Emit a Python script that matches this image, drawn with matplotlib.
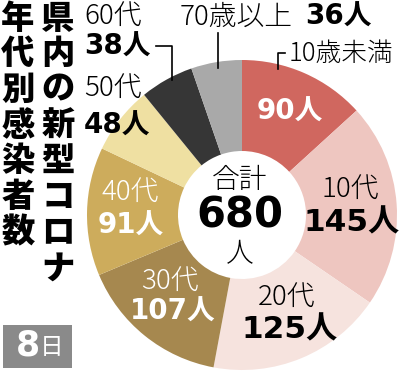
import matplotlib
matplotlib.use("Agg")
import matplotlib.pyplot as plt
from matplotlib.patches import Rectangle

plt.rcParams['font.family'] = ['Noto Sans CJK JP', 'DejaVu Sans']
num_font = ['DejaVu Sans', 'Noto Sans CJK JP']  # wide round digits, 人 falls back

# data
groups = ['10歳未満', '10代', '20代', '30代', '40代', '50代', '60代', '70歳以上']
counts = [90, 145, 125, 107, 91, 48, 38, 36]
colors = ['#d0675f', '#eec6c0', '#f6e3de', '#a6884f', '#cdac5c', '#efe0a2', '#363636', '#a9a9a9']
total = sum(counts)
title_right = '県内の新型コロナ'
title_left = '年代別感染者数'
date_num = '8'
date_unit = '日'

H = 375


def Y(py):
    return H - py


fig = plt.figure(figsize=(4, 3.75), dpi=100)
ax = fig.add_axes([0, 0, 1, 1])

ax.pie(counts, colors=colors, startangle=90, counterclock=False,
       center=(242, Y(215)), radius=155,
       wedgeprops=dict(width=91, linewidth=0))
ax.set_xlim(0, 400)
ax.set_ylim(0, H)
ax.set_aspect('equal')
ax.axis('off')

# vertical title
for i, ch in enumerate(title_right):
    ax.text(58, Y(18 + i * 35.7), ch, fontsize=24, fontweight='heavy',
            ha='center', va='center')
for i, ch in enumerate(title_left):
    ax.text(18, Y(18 + i * 35.7), ch, fontsize=24, fontweight='heavy',
            ha='center', va='center')


def label(x, y, s, size=20, color='black', ha='center'):
    ax.text(x, Y(y), s, fontsize=size, fontweight='light', color=color,
            ha=ha, va='center')


def number(x, y, n, size=20, color='black', ha='center'):
    ax.text(x, Y(y), f'{n}人', fontsize=size, fontweight='bold', color=color,
            ha=ha, va='center', family=num_font)


# centre
label(240, 180, '合計')
ax.text(240, Y(216), str(total), fontsize=30, fontweight='bold', ha='center',
        va='center', family=num_font)
label(240, 254, '人')

# inside labels
number(290, 112, counts[0], color='white')
label(350, 190, groups[1])
number(352, 223, counts[1], size=22.5)
label(287, 298, groups[2])
number(290, 330, counts[2], size=22.5)
label(170, 282, groups[3], color='white')
number(173, 312, counts[3], color='white')
label(130, 193, groups[4], color='white')
number(131, 226, counts[4], color='white')

# outside labels
label(84, 17, groups[6], ha='left')
number(84, 47, counts[6], ha='left')
label(84, 89, groups[5], ha='left')
number(84, 126, counts[5], ha='left')
label(180, 17, groups[7], ha='left')
number(305, 17, counts[7], ha='left')
label(289, 54, groups[0], size=18.5, ha='left')

# leader lines
ax.plot([156, 172, 172], [Y(46), Y(46), Y(80)], color='black', lw=1.2)
ax.plot([218, 218], [Y(33), Y(68)], color='black', lw=1.2)
ax.plot([285, 278, 278], [Y(53), Y(53), Y(69)], color='black', lw=1.2)

# date box
ax.add_patch(Rectangle((3, Y(368)), 69, 43, facecolor='#8a8a8a', edgecolor='none'))
ax.text(28, Y(346), date_num, fontsize=25, fontweight='bold', color='white',
        ha='center', va='center', family=num_font)
ax.text(52, Y(348), date_unit, fontsize=17, color='white', ha='center', va='center')

fig.savefig('out.png', dpi=100)
